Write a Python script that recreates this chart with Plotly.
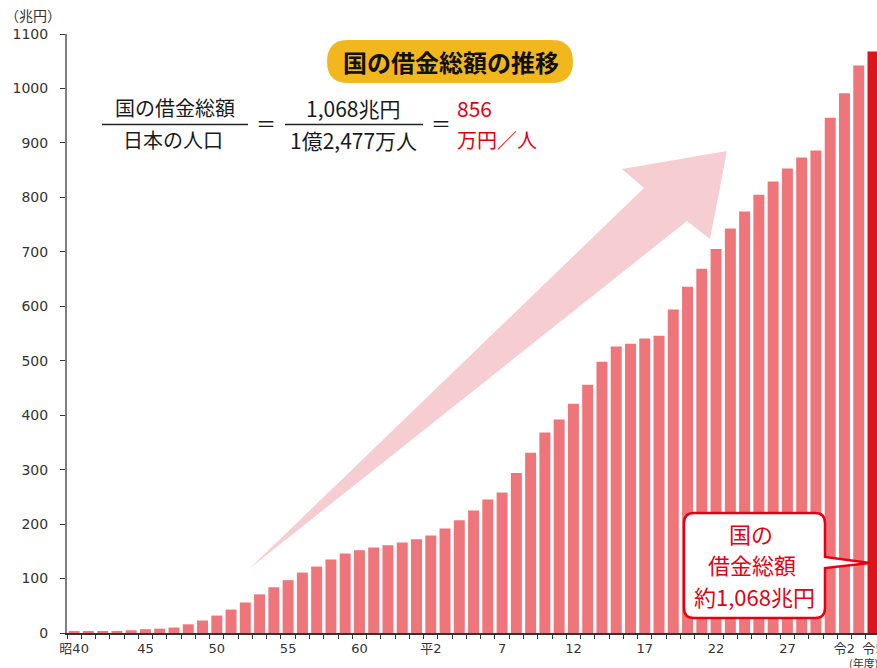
import plotly.graph_objects as go

# ---- data ----
debt_trillion_yen = [3, 3, 3, 3, 5, 7, 8, 10, 16, 23, 32, 43, 56, 71, 84, 97, 111, 122,
                     135, 146, 152, 157, 161, 166, 172, 179, 192, 207,
                     225, 245, 258, 294, 331, 368, 392, 421, 456, 498, 526, 531, 541, 546,
                     594, 636, 669,
                     705, 743, 774, 805, 829, 853, 873, 886, 946, 991, 1042, 1068]
bar_positions = list(range(len(debt_trillion_yen)))
tick_positions = [0, 5, 10, 15, 20, 25, 30, 35, 40, 45, 50, 54, 56]
tick_labels = ["昭40", "45", "50", "55", "60", "平2", "7", "12", "17", "22", "27", "令2", "令5"]
y_ticks = list(range(0, 1101, 100))

BAR = "#EE767B"
BAR_LAST = "#D8161B"
ARROW = "#F6CDD0"
PILL = "#F3B71E"
RED = "#E60012"
JP = "Noto Sans CJK JP"

colors = [BAR] * (len(debt_trillion_yen) - 1) + [BAR_LAST]

# plot-area geometry in pixels
L, T, W, H = 67, 34, 810, 599


def px(x):
    return (x - L) / W


def py(y):
    return (T + H - y) / H


def path(points, close=True):
    s = "M {:.5f},{:.5f} ".format(px(points[0][0]), py(points[0][1]))
    for p in points[1:]:
        s += "L {:.5f},{:.5f} ".format(px(p[0]), py(p[1]))
    return s + ("Z" if close else "")


def rounded_rect(x0, y0, x1, y1, r, pointer=None):
    P = lambda x, y: "{:.5f},{:.5f}".format(px(x), py(y))
    s = "M " + P(x0 + r, y0)
    s += " L " + P(x1 - r, y0)
    s += " Q " + P(x1, y0) + " " + P(x1, y0 + r)
    if pointer:
        (ya, yb, tx, ty) = pointer
        s += " L " + P(x1, ya) + " L " + P(tx, ty) + " L " + P(x1, yb)
    s += " L " + P(x1, y1 - r)
    s += " Q " + P(x1, y1) + " " + P(x1 - r, y1)
    s += " L " + P(x0 + r, y1)
    s += " Q " + P(x0, y1) + " " + P(x0, y1 - r)
    s += " L " + P(x0, y0 + r)
    s += " Q " + P(x0, y0) + " " + P(x0 + r, y0)
    return s + " Z"


fig = go.Figure(
    go.Bar(
        x=bar_positions,
        y=debt_trillion_yen,
        width=0.77,
        marker=dict(color=colors, line=dict(width=0)),
        hoverinfo="skip",
    )
)

shapes = [
    # big pink arrow
    dict(type="path", xref="paper", yref="paper", layer="above",
         path=path([(249, 569), (644, 188), (622, 169), (727, 151), (710, 239), (687, 221)]),
         fillcolor=ARROW, line=dict(width=0)),
    # title pill
    dict(type="path", xref="paper", yref="paper", layer="above",
         path=rounded_rect(327, 40, 573, 83, 21.5),
         fillcolor=PILL, line=dict(width=0)),
    # fraction lines
    dict(type="line", xref="paper", yref="paper", x0=px(102), x1=px(248), y0=py(124.5), y1=py(124.5),
         line=dict(color="#222", width=1.5)),
    dict(type="line", xref="paper", yref="paper", x0=px(285), x1=px(423), y0=py(124.5), y1=py(124.5),
         line=dict(color="#222", width=1.5)),
    # callout box
    dict(type="path", xref="paper", yref="paper", layer="above",
         path=rounded_rect(684, 513, 825, 618, 10, pointer=(557, 568, 870, 563)),
         fillcolor="white", line=dict(color=RED, width=2.5)),
]

ann = []


def text(x, y, t, size, color="#1a1a1a", xanchor="center", family=JP):
    ann.append(dict(xref="paper", yref="paper", x=px(x), y=py(y), text=t, showarrow=False,
                    xanchor=xanchor, yanchor="middle",
                    font=dict(family=family, size=size, color=color)))


text(451, 61, "<b>国の借金総額の推移</b>", 24, "#111")
text(175, 108, "国の借金総額", 20)
text(173, 140, "日本の人口", 20)
text(266, 124, "＝", 20)
text(353, 108, "1,068兆円", 21)
text(353, 140, "1億2,477万人", 21)
text(441, 124, "＝", 20)
text(455, 108, "856", 21, RED, "left")
text(455, 139, "万円／人", 20, RED, "left")
text(751, 533, "国の", 22, RED)
text(752, 564, "借金総額", 22, RED)
text(754, 596, "約1,068兆円", 22, RED)
text(33, 15, "（兆円）", 14, "#333")
text(847, 663, "(年度)", 11, "#333", "left")

fig.update_layout(
    width=877, height=668,
    margin=dict(l=L, r=877 - L - W, t=T, b=668 - T - H, pad=0, autoexpand=False),
    paper_bgcolor="white", plot_bgcolor="white",
    showlegend=False,
    shapes=shapes,
    annotations=ann,
    xaxis=dict(
        automargin=False,
        range=[-0.5, 56.28],
        tickmode="array", tickvals=tick_positions, ticktext=tick_labels,
        ticks="outside", ticklen=3, tickcolor="rgba(0,0,0,0)",
        ticklabeloverflow="allow",
        minor=dict(tickmode="linear", tick0=-0.5, dtick=1, ticks="outside",
                   ticklen=4, tickcolor="#333", tickwidth=1, showgrid=False),
        showline=True, linecolor="#333", linewidth=1.5,
        showgrid=False, zeroline=False,
        tickfont=dict(family="DejaVu Sans, " + JP, size=13, color="#333"),
    ),
    yaxis=dict(
        automargin=False,
        range=[0, 1100], tickmode="array", tickvals=y_ticks,
        ticks="outside", ticklen=5, tickcolor="#333", tickwidth=1,
        showline=True, linecolor="#808080", linewidth=2,
        showgrid=False, zeroline=False,
        ticklabelstandoff=9,
        tickfont=dict(family="DejaVu Sans", size=14, color="#333"),
    ),
)

fig.write_html(
    "out.html",
    config={"displayModeBar": False},
    post_script="document.body.style.margin='0';document.body.style.padding='0';document.body.style.overflow='hidden';",
)
